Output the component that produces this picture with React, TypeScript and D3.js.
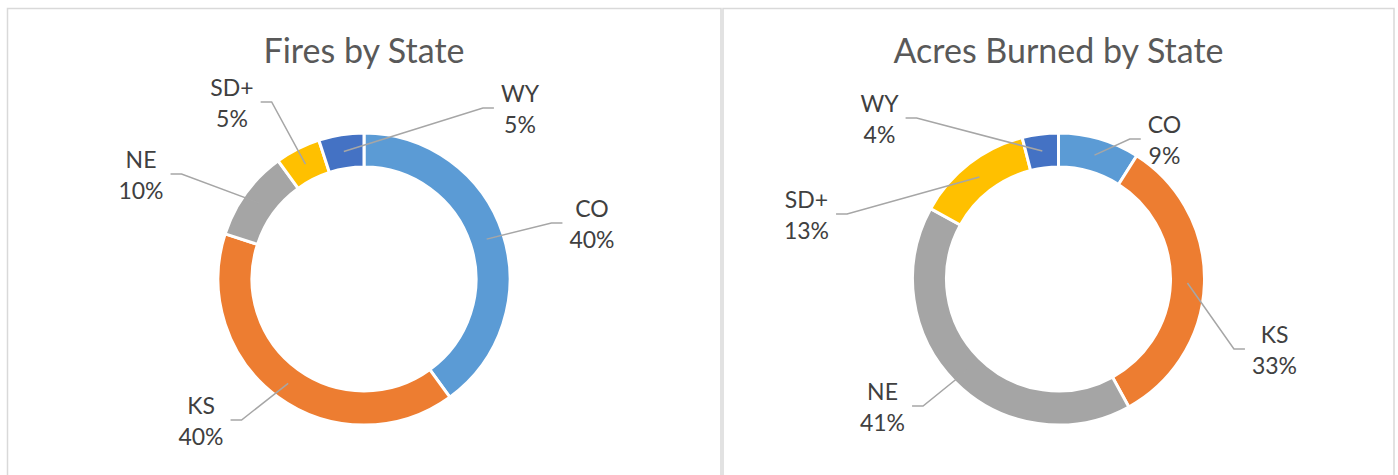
import React from "react";
import * as d3 from "d3";

const categories = ["CO", "KS", "NE", "SD+", "WY"];
const firesValues = [40, 40, 10, 5, 5];
const acresValues = [9, 33, 41, 13, 4];
const colors = ["#5B9BD5", "#ED7D31", "#A5A5A5", "#FFC000", "#4472C4"];

// label centre offsets (layout) relative to donut centre
const firesLabelOffsets: [number, number][] = [[228, -55], [-163, 142], [-223, -104], [-132, -176], [156, -170]];
const acresLabelOffsets: [number, number][] = [[106, -139], [216, 71], [-176, 128], [-252, -64], [-179, -160]];

const W = 1398, H = 475;
const FONT = "Lato, 'Open Sans', sans-serif";

function measure(text: string, size: number) {
  const c = document.createElement("canvas").getContext("2d");
  if (!c) return text.length * size * 0.55;
  c.font = `${size}px Lato`;
  return c.measureText(text).width;
}

function Donut({ cx, cy, title, values, offsets }: { cx: number; cy: number; title: string; values: number[]; offsets: [number, number][] }) {
  const outerR = 146, innerR = 112;
  const total = d3.sum(values);
  const pie = d3.pie<number>().sort(null).value((d) => d)(values);
  const arc = d3.arc<d3.PieArcDatum<number>>().innerRadius(innerR).outerRadius(outerR);
  const fs = 23;
  return (
    <g>
      <text x={cx} y={63} textAnchor="middle" fontFamily={FONT} fontSize={34} fill="#595959">{title}</text>
      <g transform={`translate(${cx},${cy})`}>
        {pie.map((p, i) => (
          <path key={i} d={arc(p) || ""} fill={colors[i]} stroke="#fff" strokeWidth={3} />
        ))}
        {pie.map((p, i) => {
          const [sx, sy] = arc.centroid(p);
          const [tx, ty] = offsets[i];
          const pct = `${Math.round((values[i] / total) * 100)}%`;
          const hw = Math.max(measure(categories[i], fs), measure(pct, fs)) / 2;
          const side = sx < tx ? -1 : 1; // leader comes from this side
          const ex = tx + side * (hw + 7);
          const bx = ex + side * 11;
          return (
            <g key={"l" + i}>
              <polyline points={`${sx},${sy} ${bx},${ty - 1} ${ex},${ty - 1}`} fill="none" stroke="#A6A6A6" strokeWidth={1.5} />
              <text x={tx} y={ty - 7} textAnchor="middle" fontFamily={FONT} fontSize={fs} fill="#404040">{categories[i]}</text>
              <text x={tx} y={ty + 24} textAnchor="middle" fontFamily={FONT} fontSize={fs} fill="#404040">{pct}</text>
            </g>
          );
        })}
      </g>
    </g>
  );
}

export default function App() {
  return (
    <svg width={W} height={H} style={{ position: "absolute", left: 0, top: 0, background: "#fff" }}>
      <rect x={0} y={0} width={W} height={H} fill="#fff" />
      <rect x={7.5} y={8.5} width={713.5} height={480} fill="none" stroke="#D9D9D9" strokeWidth={1.5} />
      <rect x={723} y={8.5} width={671} height={480} fill="none" stroke="#D9D9D9" strokeWidth={1.5} />
      <Donut cx={364} cy={279} title="Fires by State" values={firesValues} offsets={firesLabelOffsets} />
      <Donut cx={1058.5} cy={279} title="Acres Burned by State" values={acresValues} offsets={acresLabelOffsets} />
    </svg>
  );
}
